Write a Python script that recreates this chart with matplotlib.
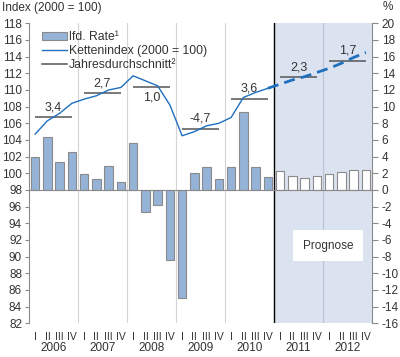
import numpy as np
import matplotlib
matplotlib.use('Agg')
import matplotlib.pyplot as plt
from matplotlib.patches import Patch
from matplotlib.lines import Line2D

plt.rcParams['font.family'] = ['Liberation Sans', 'DejaVu Sans']
plt.rcParams['axes.unicode_minus'] = False

# data
years = ['2006', '2007', '2008', '2009', '2010', '2011', '2012']
quarters = ['I', 'II', 'III', 'IV']
rate = [3.9, 6.4, 3.4, 4.6,
        1.9, 1.3, 2.9, 1.0,
        5.6, -2.7, -1.8, -8.4,
        -13.0, 2.0, 2.8, 1.35,
        2.7, 9.3, 2.8, 1.5,
        2.25, 1.7, 1.45, 1.65,
        1.95, 2.2, 2.4, 2.4]
n_actual = 20
index_actual = [104.7, 106.3, 107.2, 108.4,
                108.9, 109.3, 110.0, 110.3,
                111.7, 111.1, 110.5, 108.2,
                104.5, 105.0, 105.7, 106.0,
                106.7, 109.1, 109.7, 110.2]
index_forecast = [110.2,
                  110.7, 111.2, 111.6, 112.1,
                  112.6, 113.2, 113.9, 114.5]
year_avg = [106.7, 109.6, 110.3, 105.3, 108.9, 111.5, 113.5]
year_rate = ['3,4', '2,7', '1,0', '-4,7', '3,6', '2,3', '1,7']
label_below = [False, False, True, False, False, False, False]

txt = '#333333'
grey = '#8a8a8a'
bar_col = '#95b3d7'
line_col = '#1f6fbf'

fig = plt.figure(figsize=(4, 3.57), dpi=100)
ax = fig.add_axes([29 / 400, 33.7 / 357, 343 / 400, 300 / 357])
axl = ax.twinx()

nq = len(rate)
x = np.arange(nq) + 0.5

# forecast shading and year separators
ax.axvspan(n_actual, nq, color='#dce3f0', lw=0, zorder=0)
for b in range(4, nq, 4):
    if b == n_actual:
        ax.axvline(b, color='black', lw=1.0, zorder=1)
    elif b > n_actual:
        ax.axvline(b, color='#b9c2d2', lw=0.8, zorder=1)
    else:
        ax.axvline(b, color='#d4d4d4', lw=0.8, zorder=1)

# bars (percent scale)
fc = [bar_col] * n_actual + ['white'] * (nq - n_actual)
ax.bar(x, rate, width=0.68, color=fc, edgecolor=grey, linewidth=0.8, zorder=2)
ax.axhline(0, color=grey, lw=0.8, zorder=3)
ax.set_ylim(-16, 20)
ax.set_yticks(np.arange(-16, 21, 2))
ax.set_xlim(0, nq)

# index lines
axl.plot(x[:n_actual], index_actual, color=line_col, lw=1.0, zorder=4)
axl.plot(x[n_actual - 1:], index_forecast, color=line_col, lw=2.0,
         dashes=(4, 2.2), zorder=4)
for k, (avg, lab) in enumerate(zip(year_avg, year_rate)):
    axl.hlines(avg, 4 * k + 0.5, 4 * k + 3.5, color='#555555', lw=1.1, zorder=3)
    if label_below[k]:
        axl.annotate(lab, (4 * k + 2, avg), xytext=(0, -3), textcoords='offset points',
                     ha='center', va='top', fontsize=9, color=txt)
    else:
        axl.annotate(lab, (4 * k + 2, avg), xytext=(0, 3), textcoords='offset points',
                     ha='center', va='bottom', fontsize=9, color=txt)
axl.set_ylim(82, 118)
axl.set_yticks(np.arange(82, 119, 2))

# axes layout: index on left, percent on right
axl.yaxis.tick_left()
ax.yaxis.tick_right()
for a in (ax, axl):
    for s in a.spines.values():
        s.set_visible(False)
axl.spines['left'].set_visible(True)
axl.spines['left'].set_color(grey)
ax.spines['right'].set_visible(True)
ax.spines['right'].set_color(grey)
axl.tick_params(axis='y', labelsize=8.5, colors=txt, length=3, width=0.8, pad=2)
axl.tick_params(axis='y', color=grey)
ax.tick_params(axis='y', labelsize=8.5, colors=txt, length=4, width=0.8, pad=3)
ax.tick_params(axis='y', color=grey)

ax.set_xticks(x)
ax.set_xticklabels(quarters * len(years), fontsize=7.5, color=txt)
ax.tick_params(axis='x', length=0, pad=6)
for k, yr in enumerate(years):
    ax.text(4 * k + 2, -0.082, yr, transform=ax.get_xaxis_transform(),
            ha='center', va='center', fontsize=8.5, color=txt)

# prognose box
axl.text(24.4, 91.3, 'Prognose', ha='center', va='center', fontsize=8.5, color=txt,
         bbox=dict(facecolor='white', edgecolor='none', boxstyle='square,pad=0.8'),
         zorder=5)

# legend
handles = [Patch(facecolor=bar_col, edgecolor=grey, linewidth=0.8),
           Line2D([], [], color=line_col, lw=1.0),
           Line2D([], [], color='#555555', lw=1.1)]
labels = ['lfd. Rate\u00b9', 'Kettenindex (2000 = 100)', 'Jahresdurchschnitt\u00b2']
leg = axl.legend(handles, labels, loc='upper left', bbox_to_anchor=(0.015, 1.0),
                 frameon=False, fontsize=8.8, handlelength=2.0, handleheight=0.55,
                 handletextpad=0.2, labelspacing=0.15, borderaxespad=0.25)
for t in leg.get_texts():
    t.set_color(txt)

fig.text(2 / 400, 1 - 8 / 357, 'Index (2000 = 100)', ha='left', va='center',
         fontsize=8.5, color=txt)
fig.text(388 / 400, 1 - 7 / 357, '%', ha='center', va='center', fontsize=8.5, color=txt)

fig.savefig('out.png', dpi=100)
